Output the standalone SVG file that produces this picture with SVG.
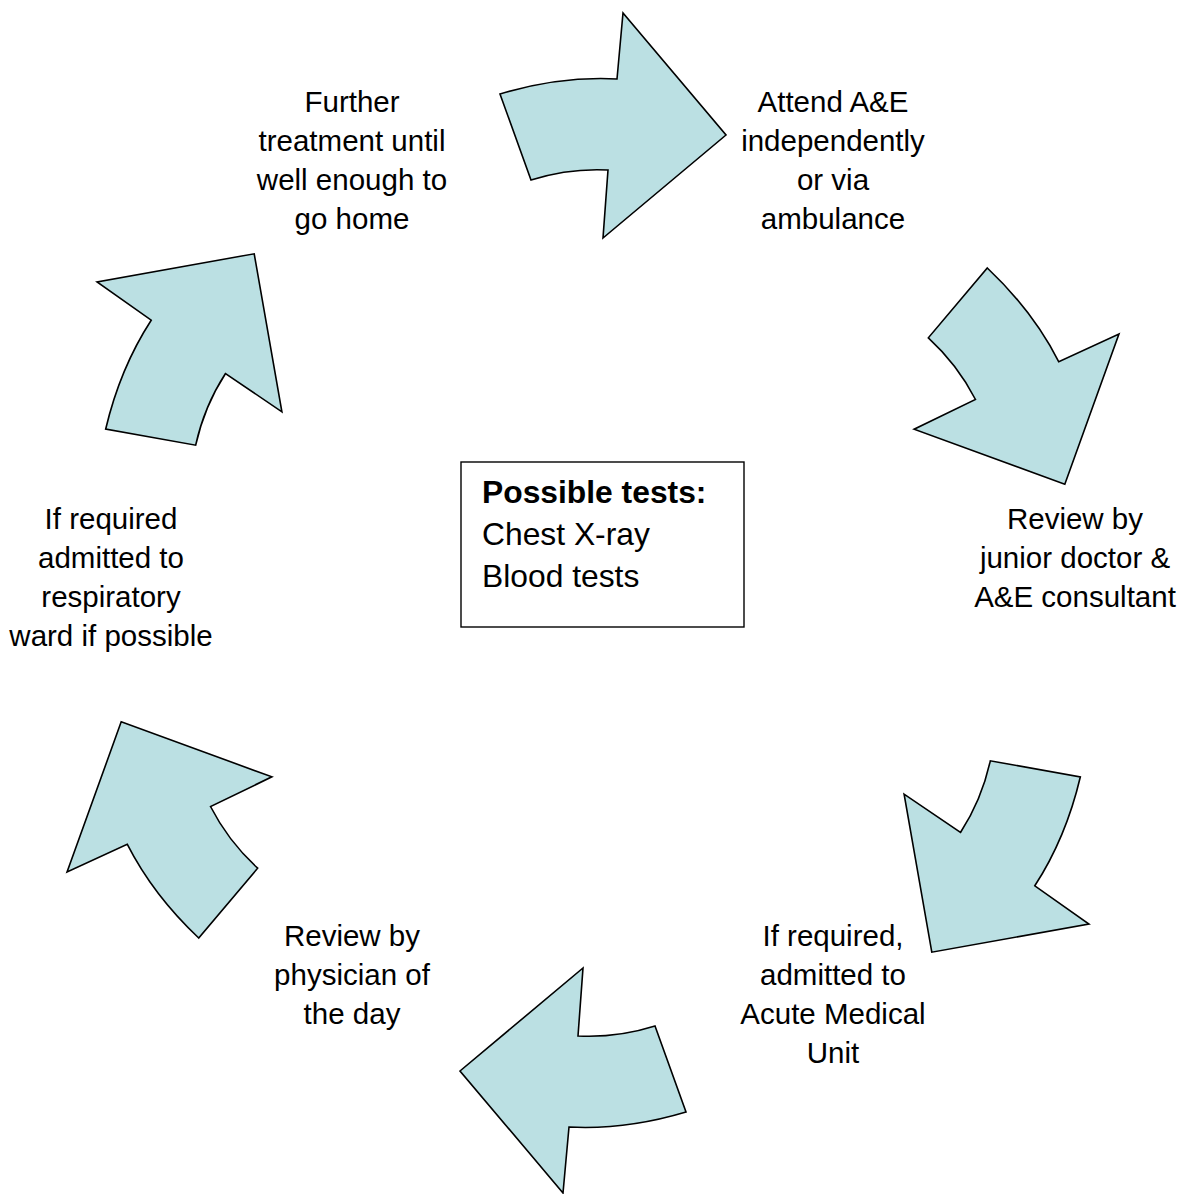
<svg xmlns="http://www.w3.org/2000/svg" xmlns:xlink="http://www.w3.org/1999/xlink" width="1183" height="1194" viewBox="0 0 1183 1194">
  <style>
    .lbl { font-family: "Liberation Sans", Arial, sans-serif; font-size: 29.5px; fill: #000; text-anchor: middle; }
    .box-txt { font-family: "Liberation Sans", Arial, sans-serif; font-size: 31.8px; fill: #000; }
    .bold { font-weight: bold; }
    .arrow { fill: #BBE0E3; stroke: #000; stroke-width: 1.6; stroke-linejoin: miter; }
    .box { fill: #fff; stroke: #000; stroke-width: 1.4; }
  </style>
  <defs>
    <!-- curved block arrow; copies are rotated about the cycle centre (593,603) -->
    <path id="cycle-arrow" d="M 500,94 Q 560,76 617,79 L 623,13 L 726,135 L 603,238 L 608,170 Q 569,168 531,180 Z"/>
  </defs>
  <rect width="1183" height="1194" fill="#fff"/>

  <g id="connectors">
    <use xlink:href="#cycle-arrow" class="arrow"/>
    <use xlink:href="#cycle-arrow" class="arrow" transform="rotate(60 593 603)"/>
    <use xlink:href="#cycle-arrow" class="arrow" transform="rotate(120 593 603)"/>
    <use xlink:href="#cycle-arrow" class="arrow" transform="rotate(180 593 603)"/>
    <use xlink:href="#cycle-arrow" class="arrow" transform="rotate(240 593 603)"/>
    <use xlink:href="#cycle-arrow" class="arrow" transform="rotate(300 593 603)"/>
  </g>

  <g id="node-attend">
    <text class="lbl" x="833" y="112">Attend A&amp;E</text>
    <text class="lbl" x="833" y="151">independently</text>
    <text class="lbl" x="833" y="190">or via</text>
    <text class="lbl" x="833" y="229">ambulance</text>
  </g>

  <g id="node-review-junior">
    <text class="lbl" x="1075" y="529">Review by</text>
    <text class="lbl" x="1075" y="568">junior doctor &amp;</text>
    <text class="lbl" x="1075" y="607">A&amp;E consultant</text>
  </g>

  <g id="node-amu">
    <text class="lbl" x="833" y="946">If required,</text>
    <text class="lbl" x="833" y="985">admitted to</text>
    <text class="lbl" x="833" y="1024">Acute Medical</text>
    <text class="lbl" x="833" y="1063">Unit</text>
  </g>

  <g id="node-physician">
    <text class="lbl" x="352" y="946">Review by</text>
    <text class="lbl" x="352" y="985">physician of</text>
    <text class="lbl" x="352" y="1024">the day</text>
  </g>

  <g id="node-respiratory">
    <text class="lbl" x="111" y="529">If required</text>
    <text class="lbl" x="111" y="568">admitted to</text>
    <text class="lbl" x="111" y="607">respiratory</text>
    <text class="lbl" x="111" y="646">ward if possible</text>
  </g>

  <g id="node-further">
    <text class="lbl" x="352" y="112">Further</text>
    <text class="lbl" x="352" y="151">treatment until</text>
    <text class="lbl" x="352" y="190">well enough to</text>
    <text class="lbl" x="352" y="229">go home</text>
  </g>

  <g id="node-tests">
    <rect class="box" x="461" y="462" width="283" height="165"/>
    <text class="box-txt bold" x="482" y="503">Possible tests:</text>
    <text class="box-txt" x="482" y="545">Chest X-ray</text>
    <text class="box-txt" x="482" y="587">Blood tests</text>
  </g>
</svg>
